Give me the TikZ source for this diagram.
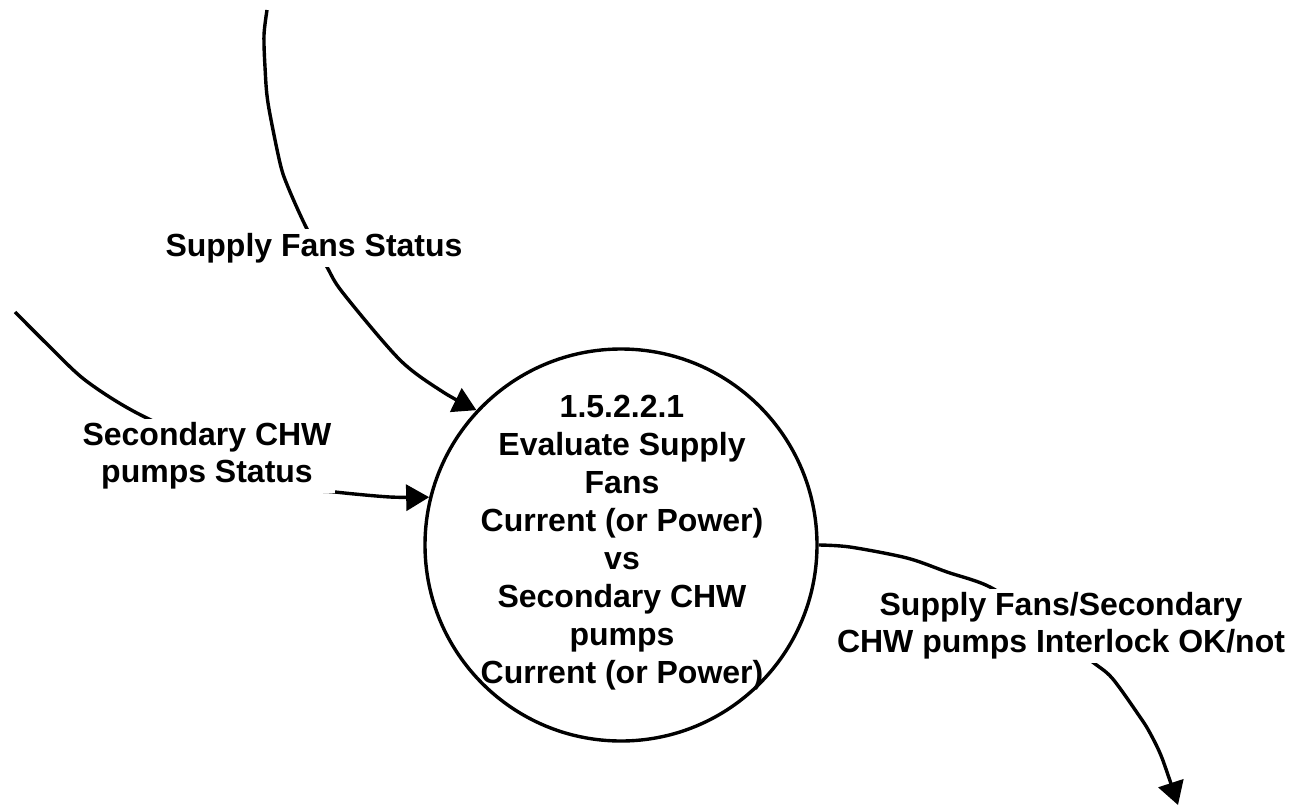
\documentclass[tikz,border=0pt]{standalone}
\usepackage{fontspec}
\setmainfont{Liberation Sans}
\usetikzlibrary{arrows.meta}
\begin{document}
\begin{tikzpicture}[x=1pt,y=-1pt,
  flow/.style={line width=3.4pt, line join=round, -{Triangle[length=23pt,width=26pt]}},
  proc/.style={circle, draw, line width=3.4pt, minimum size=392pt, inner sep=0pt},
  ptext/.style={inner sep=0pt, align=center, font=\fontsize{32}{38}\selectfont\bfseries},
  lbl/.style={fill=white, inner sep=4pt, align=center, font=\fontsize{32}{37}\selectfont\bfseries}]
\useasboundingbox (0,0) rectangle (1293,806);
\node[proc] (P) at (621,545) {};
\coordinate (s1) at (267,10);
\coordinate (s2) at (15,312);
\coordinate (o1) at (1178,805);
\draw[flow] plot[smooth, tension=0.5] coordinates {(s1) (264,35) (265,67) (268,103) (280,163) (288,187) (305,225) (327,267) (343,293) (400,360) (443,392) (P.137)};
\draw[flow] plot[smooth, tension=0.5] coordinates {(s2) (50,347) (85,380) (135,412) (220,452) (300,487) (335,492) (390,497) (P.166)};
\draw[flow] plot[smooth, tension=0.5] coordinates {(P.east) (850,547) (907,558) (947,572) (990,587) (1040,620) (1090,660) (1112,678) (1140,717) (1150,733) (1162,758) (o1)};
\node[ptext] (PT) at (622,543) {1.5.2.2.1\\Evaluate Supply\\Fans\\Current (or Power)\\vs\\Secondary CHW\\pumps\\Current (or Power)};
\node[lbl] (L1) at (314,248) {Supply Fans Status};
\node[lbl] (L2) at (207,456) {Secondary CHW\\pumps Status};
\node[lbl] (L3) at (1061,626) {Supply Fans/Secondary\\CHW pumps Interlock OK/not};
\end{tikzpicture}
\end{document}
